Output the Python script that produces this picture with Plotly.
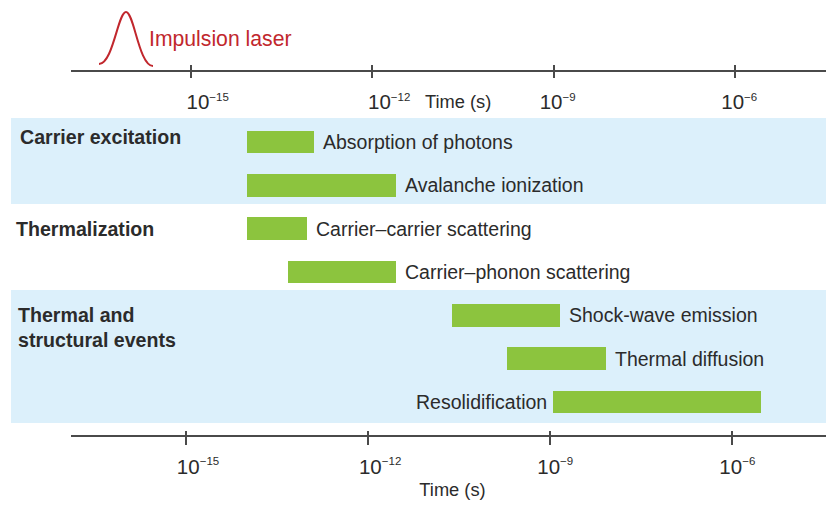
import math
import plotly.graph_objects as go

# ---------------- data ----------------
tasks = ["Absorption of photons", "Avalanche ionization",
         "Carrier\u2013carrier scattering", "Carrier\u2013phonon scattering",
         "Shock-wave emission", "Thermal diffusion", "Resolidification"]
start_s = [1.0e-14, 1.0e-14, 1.0e-14, 4.8e-14, 2.4e-11, 1.95e-10, 1.1e-9]
end_s = [1.3e-13, 2.9e-12, 1.0e-13, 2.9e-12, 1.45e-9, 8.3e-9, 3.0e-6]
label_side = ["right", "right", "right", "right", "right", "right", "left"]
groups = ["Carrier excitation", "Thermalization", "Thermal and<br>structural events"]
tick_vals = [1e-15, 1e-12, 1e-9, 1e-6]
tick_exp = ["\u221215", "\u221212", "\u22129", "\u22126"]

# ---------------- layout helpers ----------------
OFF = 8  # page body margin
W, H = 834 - OFF, 506 - OFF
PL, PR, PT, PB = 71, 834, 72, 435  # plot area in screen pixels
ML, MR, MT, MB = PL - OFF, 834 - PR, PT - OFF, 506 - PB
PW, PH = PR - PL, PB - PT


def px(x):
    return (x - PL) / PW


def py(y):
    return 1 - (y - PT) / PH


FONT = "Liberation Sans, Arial, Helvetica, sans-serif"
TXT = "#2b2b2b"
GREEN = "#8cc43e"
BAND = "#dcf0fb"
AXC = "#4a4a4a"
RED = "#c1272d"

tick_text = ["10<sup><span style='font-size:11.5px'>%s</span></sup>" % e for e in tick_exp]

bottom_range = [-16.895, -4.325]
top_range = [-16.978, -4.367]

fig = go.Figure()

fig.add_trace(go.Bar(
    y=tasks,
    x=[e - s for s, e in zip(start_s, end_s)],
    base=start_s,
    orientation="h",
    width=0.52,
    marker=dict(color=GREEN, line=dict(width=0)),
    hoverinfo="skip",
    showlegend=False,
))

# invisible traces to activate the extra axes
for axn in ["x2", "x3", "x4", "x5", "x6"]:
    fig.add_trace(go.Scatter(x=[1e-15], y=[tasks[0]], xaxis=axn, mode="markers",
                             marker=dict(opacity=0), showlegend=False, hoverinfo="skip"))

# bar labels
ann = []
for t, s, e, side in zip(tasks, start_s, end_s, label_side):
    if side == "right":
        ann.append(dict(x=math.log10(e), y=t, xref="x", yref="y", text=t,
                        xanchor="left", xshift=7, showarrow=False,
                        font=dict(family=FONT, size=19.5, color=TXT)))
    else:
        ann.append(dict(x=math.log10(s), y=t, xref="x", yref="y", text=t,
                        xanchor="right", xshift=-4, showarrow=False,
                        font=dict(family=FONT, size=19.5, color=TXT)))

# group labels
group_y = [137, 229, 327]
group_x = [18, 14, 16]
for g, gy, gx in zip(groups, group_y, group_x):
    ann.append(dict(x=px(gx), y=py(gy), xref="paper", yref="paper", text="<b>" + g + "</b>",
                    xanchor="left", yanchor="middle", align="left", showarrow=False,
                    font=dict(family=FONT, size=19.6, color=TXT)))

# top axis title and laser label
ann.append(dict(x=px(458), y=py(101), xref="paper", yref="paper", text="Time (s)",
                showarrow=False, xanchor="center", yanchor="middle",
                font=dict(family=FONT, size=18.3, color=TXT)))
ann.append(dict(x=px(147), y=py(39), xref="paper", yref="paper", text="Impulsion laser",
                showarrow=False, xanchor="left", yanchor="middle",
                font=dict(family=FONT, size=21.2, color=RED)))

# background bands
shapes = [
    dict(type="rect", xref="paper", yref="paper", x0=px(11), x1=px(840), y0=py(204), y1=py(118),
         fillcolor=BAND, line=dict(width=0), layer="below"),
    dict(type="rect", xref="paper", yref="paper", x0=px(11), x1=px(840), y0=py(423), y1=py(290),
         fillcolor=BAND, line=dict(width=0), layer="below"),
]

# laser pulse glyph
pts = [(99, 64), (113, 64), (118, 12), (126, 12), (134, 12), (139, 66), (153, 66)]
p = [(px(a), py(b)) for a, b in pts]
path = "M {0},{1} C {2},{3} {4},{5} {6},{7} C {8},{9} {10},{11} {12},{13}".format(
    *[c for pt in p for c in pt])
shapes.append(dict(type="path", xref="paper", yref="paper", path=path,
                   line=dict(color=RED, width=2)))

base_ax = dict(type="log", showgrid=False, zeroline=False, showline=True,
               linecolor=AXC, linewidth=2, tickcolor=AXC, tickwidth=1.5, fixedrange=True,
               anchor="y", tickfont=dict(family=FONT, size=20.5, color=TXT))


def ax(rng, side, ticks, ticklen, idx, labels=True, **kw):
    d = dict(base_ax)
    d.update(range=rng, side=side, ticks=ticks, ticklen=ticklen,
             tickvals=[tick_vals[i] for i in idx],
             ticktext=[tick_text[i] for i in idx],
             showticklabels=labels)
    d.update(kw)
    return d


fig.update_layout(
    width=W, height=H,
    margin=dict(l=ML, r=MR, t=MT, b=MB, autoexpand=False),
    paper_bgcolor="white", plot_bgcolor="rgba(0,0,0,0)",
    font=dict(family=FONT, color=TXT),
    bargap=0,
    # bottom axis: two-digit exponents
    xaxis=ax(bottom_range, "bottom", "outside", 8, [0, 1],
             ticklabelstandoff=4, ticklabelshift=12,
             title=dict(text="Time (s)", standoff=7,
                        font=dict(family=FONT, size=18.3, color=TXT))),
    # bottom axis: one-digit exponents
    xaxis5=ax(bottom_range, "bottom", "outside", 8, [2, 3], overlaying="x",
              ticklabelstandoff=4, ticklabelshift=5),
    # bottom axis: upward tick stubs
    xaxis3=ax(bottom_range, "bottom", "inside", 4, [0, 1, 2, 3], labels=False, overlaying="x"),
    # top axis: two-digit exponents (labels below the line)
    xaxis2=ax(top_range, "top", "inside", 6, [0, 1], overlaying="x",
              ticklabelposition="inside", ticklabelstandoff=18, ticklabelshift=17),
    # top axis: one-digit exponents
    xaxis6=ax(top_range, "top", "inside", 6, [2, 3], overlaying="x",
              ticklabelposition="inside", ticklabelstandoff=18, ticklabelshift=4),
    # top axis: upward tick stubs
    xaxis4=ax(top_range, "top", "outside", 5, [0, 1, 2, 3], labels=False, overlaying="x"),
    yaxis=dict(type="category", categoryorder="array", categoryarray=tasks,
               range=[6.762, -1.615], showticklabels=False, showgrid=False,
               zeroline=False, showline=False, ticks="", fixedrange=True),
    annotations=ann,
    shapes=shapes,
)

fig.write_html("out.html")
